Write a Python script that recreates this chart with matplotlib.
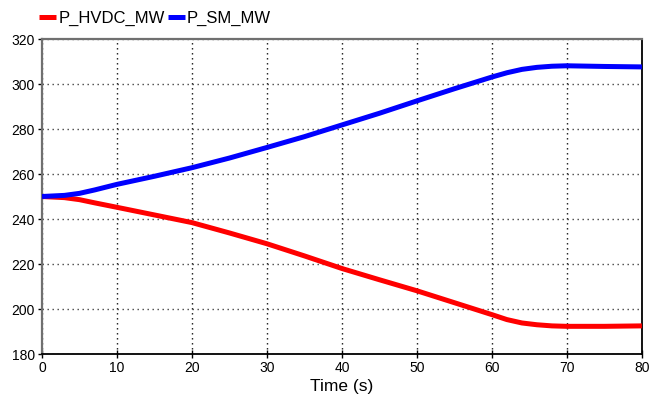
import matplotlib

matplotlib.use("Agg")
import matplotlib.pyplot as plt

plt.rcParams["font.family"] = ["Liberation Sans", "DejaVu Sans"]

# time axis (s) and power traces (MW)
time_s = [0, 3, 5, 7, 10, 15, 20, 25, 30, 35, 40, 45, 50, 55, 60, 62, 64, 66, 68, 70, 75, 80]
p_hvdc_mw = [250.0, 249.5, 248.6, 247.2, 245.2, 241.8, 238.4, 233.8, 229.0, 223.6, 218.0,
             213.0, 208.1, 202.8, 197.5, 195.3, 193.8, 193.0, 192.5, 192.3, 192.3, 192.5]
p_sm_mw = [250.0, 250.5, 251.4, 252.9, 255.4, 259.0, 262.8, 267.1, 271.8, 276.6, 281.8,
           287.0, 292.5, 297.9, 303.1, 305.0, 306.5, 307.4, 307.9, 308.1, 307.8, 307.6]

x_ticks = [0, 10, 20, 30, 40, 50, 60, 70, 80]
y_ticks = [180, 200, 220, 240, 260, 280, 300, 320]

fig = plt.figure(figsize=(6.51, 3.94), dpi=100)
ax = fig.add_axes([0.0645, 0.1015, 0.9215, 0.7995])

ax.plot(time_s, p_hvdc_mw, color="#ff0000", linewidth=3.6, solid_capstyle="butt",
        label="P_HVDC_MW", zorder=3)
ax.plot(time_s, p_sm_mw, color="#0000ff", linewidth=3.6, solid_capstyle="butt",
        label="P_SM_MW", zorder=3)

ax.set_xlim(0, 80)
ax.set_ylim(180, 320)
ax.set_xticks(x_ticks)
ax.set_yticks(y_ticks)
ax.grid(True, axis="x", color="#111111", linestyle=(0, (1.0, 2.6)), linewidth=1.0)
ax.grid(True, axis="y", color="#444444", linestyle=(0, (1.0, 2.6)), linewidth=1.0)

for side in ("top", "left"):
    ax.spines[side].set_color("#707070")
    ax.spines[side].set_linewidth(1.6)
for side in ("bottom", "right"):
    ax.spines[side].set_color("black")
    ax.spines[side].set_linewidth(1.3)

ax.tick_params(axis="x", direction="inout", length=6, width=1, labelsize=10, pad=2)
ax.tick_params(axis="y", direction="out", length=3, width=1, labelsize=10, pad=2)
ax.set_xlabel("Time (s)", fontsize=12.5, labelpad=3)

ax.legend(loc="lower left", bbox_to_anchor=(-0.005, 1.04), ncol=2, frameon=False,
          fontsize=12, handlelength=1.0, handletextpad=0.15, columnspacing=0.2,
          borderaxespad=0, borderpad=0)

fig.savefig("out.png", dpi=100)
